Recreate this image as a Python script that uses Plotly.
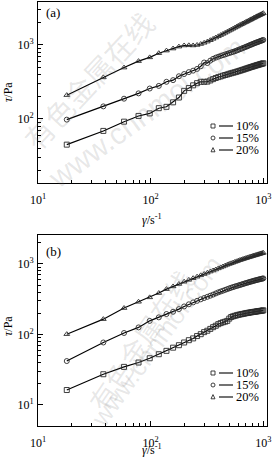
import plotly.graph_objects as go

# ---------------- data ----------------
shear_rate = [18, 38, 58, 78, 98, 118, 138, 158, 178, 198,
              218, 238, 258, 278, 298, 318, 338, 358, 378, 398,
              418, 438, 458, 478, 498, 518, 538, 558, 578, 598,
              618, 638, 658, 678, 698, 718, 738, 758, 778, 798,
              818, 838, 858, 878, 898, 918, 938, 958, 978, 998]

series_names = ["10%", "15%", "20%"]

a_10 = [45, 69, 92, 110, 119, 140, 146, 168, 195, 240,
        262, 285, 305, 318, 318, 320, 332, 346, 358, 368,
        376, 385, 393, 400, 408, 415, 422, 428, 435, 442,
        449, 456, 463, 470, 477, 484, 491, 497, 504, 510,
        516, 522, 528, 534, 539, 545, 550, 555, 560, 566]
a_15 = [98, 148, 188, 222, 258, 280, 318, 335, 378, 405,
        430, 450, 475, 515, 580, 570, 615, 650, 675, 695,
        712, 728, 745, 762, 778, 793, 808, 823, 840, 858,
        875, 892, 909, 926, 943, 960, 977, 994, 1011, 1027,
        1043, 1058, 1073, 1088, 1102, 1116, 1130, 1144, 1157, 1170]
a_20 = [210, 365, 495, 605, 680, 775, 840, 895, 950, 985,
        990, 985, 1000, 1030, 1070, 1110, 1160, 1210, 1260, 1310,
        1360, 1410, 1460, 1510, 1560, 1610, 1660, 1710, 1760, 1810,
        1860, 1905, 1950, 1995, 2040, 2085, 2130, 2175, 2220, 2265,
        2310, 2355, 2400, 2440, 2480, 2520, 2560, 2600, 2640, 2690]

b_10 = [16.3, 27.3, 34.7, 40, 46, 52.5, 58.6, 65, 70.5, 77,
        83, 88, 95, 101, 108, 113, 120, 127, 133, 140,
        145, 149, 152, 156, 168, 177, 181, 184, 187, 190,
        192, 194, 196, 198, 200, 202, 203, 205, 206, 208,
        209, 210, 211, 213, 214, 215, 216, 217, 218, 220]
b_15 = [42, 77, 105, 126, 156, 175, 195, 210, 229, 250,
        268, 285, 300, 315, 329, 342, 355, 368, 382, 396,
        407, 418, 429, 440, 451, 461, 470, 479, 487, 495,
        503, 511, 519, 527, 535, 542, 549, 556, 563, 570,
        576, 582, 588, 594, 600, 605, 610, 615, 620, 625]
b_20 = [101, 165, 237, 291, 336, 387, 440, 480, 520, 560,
        595, 628, 660, 690, 720, 750, 780, 808, 835, 865,
        893, 920, 948, 975, 1000, 1022, 1045, 1068, 1090, 1112,
        1133, 1153, 1172, 1190, 1208, 1225, 1242, 1259, 1276, 1292,
        1308, 1323, 1338, 1353, 1368, 1383, 1398, 1412, 1425, 1438]

x_tickvals = [10, 100, 1000]
x_ticktext = ["10<sup>1</sup>", "10<sup>2</sup>", "10<sup>3</sup>"]
y_tickvals = [10, 100, 1000]
y_ticktext = ["10<sup>1</sup>", "10<sup>2</sup>", "10<sup>3</sup>"]
minor_vals = [20, 30, 40, 50, 60, 70, 80, 90,
              200, 300, 400, 500, 600, 700, 800, 900,
              2000, 3000, 4000, 5000, 6000, 7000, 8000, 9000]

# ---------------- figure ----------------
W, H = 272, 459
ML, MR, MT, MB = 38, 5, 2, 33
PW, PH = W - ML - MR, H - MT - MB


def px(x):
    return (x - ML) / PW


def py(y):
    return (H - MB - y) / PH


FONT = "Liberation Serif, Times New Roman, serif"
symbols = ["square-open", "circle-open", "triangle-up-open"]
INK = "#2a2a2a"

fig = go.Figure()

panels = [
    ([a_10, a_15, a_20], "x", "y"),
    ([b_10, b_15, b_20], "x2", "y2"),
]
for data, xa, ya in panels:
    for name, vals, sym in zip(series_names, data, symbols):
        fig.add_trace(go.Scatter(
            x=shear_rate, y=vals, name=name, mode="lines+markers",
            xaxis=xa, yaxis=ya, showlegend=False,
            line=dict(color="black", width=1.15),
            marker=dict(symbol=sym, size=5, color=INK,
                        line=dict(width=0.9, color=INK)),
        ))

axis_common = dict(
    type="log", showgrid=False, zeroline=False, automargin=False,
    showline=True, linecolor="black", linewidth=1, mirror=True,
    ticks="inside", ticklen=5, tickwidth=1, tickcolor="black",
    minor=dict(ticks="inside", ticklen=3, tickwidth=1, tickcolor="black",
               tickvals=minor_vals, showgrid=False),
    tickfont=dict(family=FONT, size=12, color="black"),
    tickmode="array",
)

dom_a = [py(183), py(2)]
dom_b = [py(426), py(235)]

fig.update_layout(
    template="none",
    width=W, height=H,
    margin=dict(l=ML, r=MR, t=MT, b=MB),
    paper_bgcolor="white", plot_bgcolor="white",
    font=dict(family=FONT, size=12, color="black"),
    showlegend=False,
    xaxis=dict(axis_common, domain=[0, 1], range=[1, 3.032], anchor="y",
               tickvals=x_tickvals, ticktext=x_ticktext, ticklabelstandoff=6),
    yaxis=dict(axis_common, domain=dom_a, range=[1.135, 3.581], anchor="x",
               tickvals=y_tickvals, ticktext=y_ticktext, ticklabelstandoff=1),
    xaxis2=dict(axis_common, domain=[0, 1], range=[1, 3.032], anchor="y2",
                tickvals=x_tickvals, ticktext=x_ticktext, ticklabelstandoff=6),
    yaxis2=dict(axis_common, domain=dom_b, range=[0.702, 3.411], anchor="x2",
                tickvals=y_tickvals, ticktext=y_ticktext, ticklabelstandoff=1),
)

xtitle = "<i>γ̇</i>/s<sup>-1</sup>"
ytitle = "<i>τ</i>/Pa"


def ann(text, x, y, size=12, angle=0, family=FONT, color="black",
        xanchor="center"):
    fig.add_annotation(x=px(x), y=py(y), xref="paper", yref="paper",
                       text=text, showarrow=False, textangle=angle,
                       xanchor=xanchor, yanchor="middle", borderpad=0,
                       font=dict(family=family, size=size, color=color))


# watermark (faint)
WM = "rgba(110,110,110,0.16)"
CJK = "Noto Sans CJK SC"
SANS = "Liberation Sans, Arial, sans-serif"
for text, cx, cy, ang, size, fam in [
    ("有色金属在线", 88, 80, -47, 29, CJK),
    ("www.cnnmol.com", 146, 112, -36, 30, SANS),
    ("有色金属在线", 140, 340, -56, 27, CJK),
    ("www.cnnmol.com", 156, 342, -54, 26, SANS),
]:
    ann(text, cx, cy, size=size, angle=ang, family=fam, color=WM)

# axis titles
ann(xtitle, 152, 220, size=12)
ann(xtitle, 152, 449, size=12)
ann(ytitle, 8, 92, size=12, angle=-90)
ann(ytitle, 8, 326, size=12, angle=-90)

# panel labels
ann("(a)", 45, 13, size=13, xanchor="left")
ann("(b)", 45, 251, size=13, xanchor="left")


# legends (marker glyph, short line, label)
def legend_rows(rows_y):
    for name, sym, ly in zip(series_names, ["square", "circle", "triangle"], rows_y):
        mx, s = 213, 2.0
        if sym == "square":
            fig.add_shape(type="rect", xref="paper", yref="paper",
                          x0=px(mx - s), x1=px(mx + s), y0=py(ly + s), y1=py(ly - s),
                          line=dict(color=INK, width=0.9))
        elif sym == "circle":
            fig.add_shape(type="circle", xref="paper", yref="paper",
                          x0=px(mx - s), x1=px(mx + s), y0=py(ly + s), y1=py(ly - s),
                          line=dict(color=INK, width=0.9))
        else:
            path = "M {} {} L {} {} L {} {} Z".format(
                px(mx - s), py(ly + s * 0.9), px(mx + s), py(ly + s * 0.9),
                px(mx), py(ly - s * 1.2))
            fig.add_shape(type="path", xref="paper", yref="paper", path=path,
                          line=dict(color=INK, width=0.9))
        fig.add_shape(type="line", xref="paper", yref="paper",
                      x0=px(219), x1=px(233), y0=py(ly), y1=py(ly),
                      line=dict(color="black", width=1.1))
        ann(name, 235, ly, size=12.5, xanchor="left")


legend_rows([126, 138, 150])
legend_rows([373, 385, 397])

fig.write_html("out.html")
